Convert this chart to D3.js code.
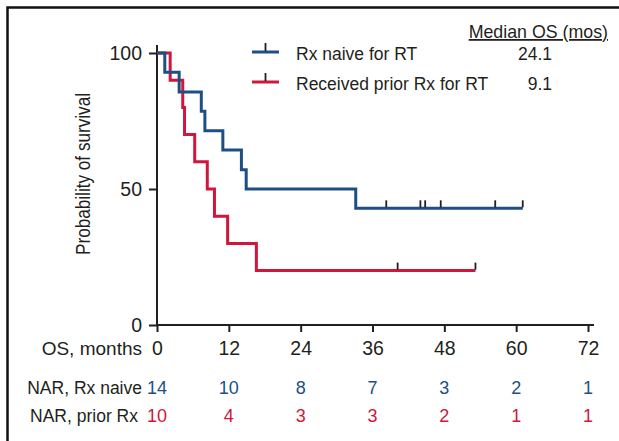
<!DOCTYPE html>
<html>
<head>
<meta charset="utf-8">
<script src="https://cdn.jsdelivr.net/npm/d3@7"></script>
<style>
  body { margin: 0; background: #fff; }
  svg text { font-family: "Liberation Sans", Arial, Helvetica, sans-serif; fill: #231f20; }
</style>
</head>
<body>
<div id="chart"></div>
<script>
// Kaplan-Meier steps (months, % surviving)
const naiveTimes = [0, 1.3, 3.7, 7.4, 8.0, 11.0, 14.1, 14.9, 33.2, 61.1];
const naiveSurv = [100, 92.9, 85.7, 78.6, 71.4, 64.3, 57.1, 50.0, 42.9, 42.9];
const naiveCensor = [38.3, 44.0, 44.8, 47.4, 56.5, 61.1];

const priorTimes = [0, 2.2, 4.3, 4.6, 6.3, 8.4, 9.6, 11.8, 16.6, 53.2];
const priorSurv = [100, 90, 80, 70, 60, 50, 40, 30, 20, 20];
const priorCensor = [40.2, 53.2];

const xTicks = [0, 12, 24, 36, 48, 60, 72];
const yTicks = [0, 50, 100];
const narNaive = [14, 10, 8, 7, 3, 2, 1];
const narPrior = [10, 4, 3, 3, 2, 1, 1];

const groups = ["Rx naive for RT", "Received prior Rx for RT"];
const medians = ["24.1", "9.1"];
const colors = ["#1d4f86", "#d0163b"];

const W = 619, H = 441;
const svg = d3.select("#chart").append("svg")
    .attr("width", W)
    .attr("height", H);

// frame (only top and left edges are visible in the crop)
svg.append("path")
    .attr("d", "M7.5," + H + "V7.5H" + W)
    .attr("fill", "none")
    .attr("stroke", "#111")
    .attr("stroke-width", 2.5);

const x = d3.scaleLinear().domain([0, 72]).range([157, 588]);
const y = d3.scaleLinear().domain([0, 100]).range([325, 53]);

// axes
const xAxis = svg.append("g")
    .attr("transform", "translate(0," + y(0) + ")")
    .call(d3.axisBottom(x).tickValues(xTicks).tickSize(7).tickPadding(9));
xAxis.select(".domain").remove();
xAxis.append("line")
    .attr("x1", x(0)).attr("x2", x(72) + 6)
    .attr("stroke", "#231f20").attr("stroke-width", 2);

const yAxis = svg.append("g")
    .attr("transform", "translate(" + x(0) + ",0)")
    .call(d3.axisLeft(y).tickValues(yTicks).tickSize(8).tickPadding(7));
yAxis.select(".domain").remove();
yAxis.append("line")
    .attr("y1", y(0)).attr("y2", y(100) - 8)
    .attr("stroke", "#231f20").attr("stroke-width", 2);

svg.selectAll(".tick line").attr("stroke", "#231f20").attr("stroke-width", 2);
svg.selectAll(".tick text").attr("font-size", "19.5px").attr("fill", "#231f20");
xAxis.selectAll(".tick text").attr("dy", "0.71em");

// y label
svg.append("text")
    .attr("transform", "translate(90," + 174 + ") rotate(-90)")
    .attr("text-anchor", "middle")
    .attr("font-family", "'Liberation Sans Narrow', 'Liberation Sans', sans-serif")
    .attr("font-size", "20px")
    .attr("textLength", 162)
    .attr("lengthAdjust", "spacingAndGlyphs")
    .text("Probability of survival");

// survival curves
const series = [
  { t: naiveTimes, s: naiveSurv, c: naiveCensor },
  { t: priorTimes, s: priorSurv, c: priorCensor }
];
const line = d3.line()
    .x(d => x(d[0]))
    .y(d => y(d[1]))
    .curve(d3.curveStepAfter);

// draw the red curve first so blue sits on top where they overlap
[1, 0].forEach(i => {
  const g = series[i];
  const pts = g.t.map((t, k) => [t, g.s[k]]);
  svg.append("path")
      .datum(pts)
      .attr("d", line)
      .attr("fill", "none")
      .attr("stroke", colors[i])
      .attr("stroke-width", 3);
});

// censor marks
series.forEach((g, i) => {
  const lastS = g.s[g.s.length - 1];
  svg.selectAll(null)
      .data(g.c)
      .enter().append("line")
      .attr("x1", d => x(d)).attr("x2", d => x(d))
      .attr("y1", y(lastS) - 1).attr("y2", y(lastS) - 8)
      .attr("stroke", "#231f20")
      .attr("stroke-width", 1.8);
});

// legend
const legY = [52, 82];
groups.forEach((name, i) => {
  const lg = svg.append("g").attr("transform", "translate(0," + legY[i] + ")");
  lg.append("line")
      .attr("x1", 252).attr("x2", 279)
      .attr("stroke", colors[i]).attr("stroke-width", 3);
  lg.append("line")
      .attr("x1", 265.5).attr("x2", 265.5)
      .attr("y1", -1).attr("y2", -9)
      .attr("stroke", "#231f20").attr("stroke-width", 1.8);
  lg.append("text")
      .attr("x", 296).attr("y", 8)
      .attr("font-size", "17.5px")
      .text(name);
  lg.append("text")
      .attr("x", 552).attr("y", 8)
      .attr("text-anchor", "end")
      .attr("font-size", "17.5px")
      .text(medians[i]);
});
svg.append("text")
    .attr("x", 608).attr("y", 38)
    .attr("text-anchor", "end")
    .attr("font-size", "17.8px")
    .attr("text-decoration", "underline")
    .text("Median OS (mos)");

// number at risk table
svg.append("text")
    .attr("x", 142).attr("y", 355)
    .attr("text-anchor", "end")
    .attr("font-size", "19px")
    .text("OS, months");

const narRows = [
  { label: "NAR, Rx naive", vals: narNaive, yPos: 394, lx: 142 },
  { label: "NAR, prior Rx", vals: narPrior, yPos: 422, lx: 138 }
];
narRows.forEach((r, i) => {
  svg.append("text")
      .attr("x", r.lx).attr("y", r.yPos)
      .attr("text-anchor", "end")
      .attr("font-size", "17.5px")
      .text(r.label);
  svg.selectAll(null)
      .data(r.vals)
      .enter().append("text")
      .attr("x", (d, k) => x(xTicks[k]))
      .attr("y", r.yPos)
      .attr("text-anchor", "middle")
      .attr("font-size", "18px")
      .style("fill", colors[i])
      .text(d => d);
});
</script>
</body>
</html>
